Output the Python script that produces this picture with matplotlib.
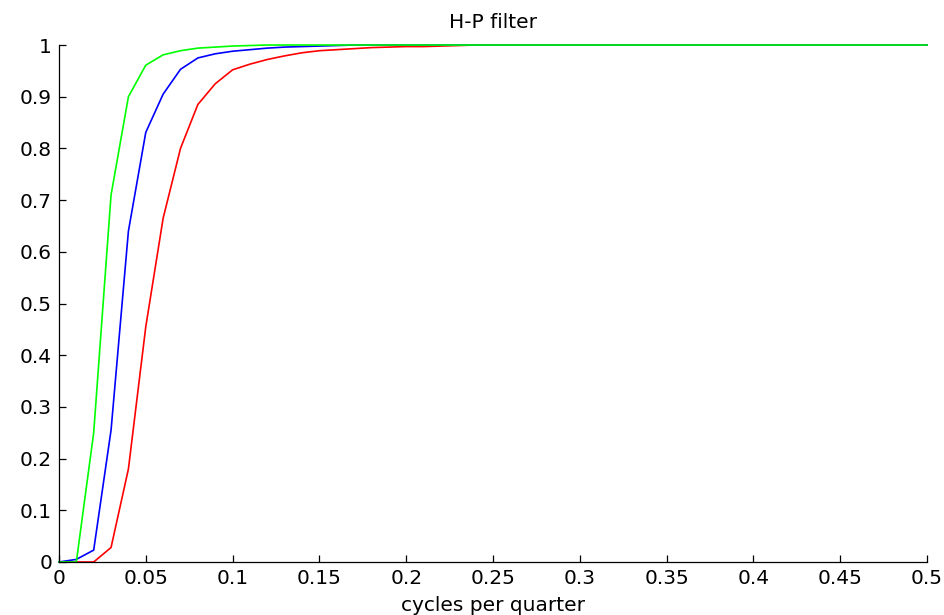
import numpy as np
import matplotlib.pyplot as plt
from matplotlib.ticker import FuncFormatter

# frequency grid (cycles per quarter), the tail is flat at 1
freq = [0.0, 0.01, 0.02, 0.03, 0.04, 0.05, 0.06, 0.07, 0.08, 0.09,
        0.10, 0.11, 0.12, 0.13, 0.14, 0.15, 0.16, 0.17, 0.18, 0.19,
        0.20, 0.21, 0.22, 0.23, 0.24, 0.5]

gain_red = [0.0, 0.0, 0.0, 0.028, 0.18, 0.455, 0.665, 0.80, 0.885, 0.925,
            0.952, 0.963, 0.972, 0.979, 0.985, 0.989, 0.991, 0.993, 0.995, 0.996,
            0.997, 0.997, 0.998, 0.999, 1.0, 1.0]
gain_blue = [0.0, 0.005, 0.023, 0.255, 0.64, 0.831, 0.905, 0.953, 0.975, 0.983,
             0.988, 0.991, 0.994, 0.996, 0.997, 0.998, 0.999, 1.0, 1.0, 1.0,
             1.0, 1.0, 1.0, 1.0, 1.0, 1.0]
gain_green = [0.0, 0.0, 0.25, 0.71, 0.90, 0.961, 0.981, 0.989, 0.994, 0.996,
              0.998, 0.999, 1.0, 1.0, 1.0, 1.0, 1.0, 1.0, 1.0, 1.0,
              1.0, 1.0, 1.0, 1.0, 1.0, 1.0]

xticks = np.arange(0, 0.51, 0.05)
yticks = np.arange(0, 1.01, 0.1)

plt.rcParams['font.family'] = ['DejaVu Sans']

fig = plt.figure(figsize=(9.45, 6.15), dpi=100)
ax = fig.add_axes([0.0624, 0.0862, 0.9186, 0.8406])

ax.plot(freq, gain_red, color='#ff0000', lw=1.2, clip_on=False)
ax.plot(freq, gain_blue, color='#0000ff', lw=1.2, clip_on=False)
ax.plot(freq, gain_green, color='#00ff00', lw=1.2, clip_on=False)

ax.set_xlim(0, 0.5)
ax.set_ylim(0, 1)
ax.set_xticks(xticks)
ax.set_yticks(yticks)

def matlab_fmt(v, pos):
    s = '%.2f' % v
    s = s.rstrip('0').rstrip('.')
    return s

ax.xaxis.set_major_formatter(FuncFormatter(matlab_fmt))
ax.yaxis.set_major_formatter(FuncFormatter(matlab_fmt))

ax.spines['top'].set_visible(False)
ax.spines['right'].set_visible(False)
ax.spines['left'].set_linewidth(0.9)
ax.spines['bottom'].set_linewidth(0.9)
ax.tick_params(direction='in', length=5, width=0.9, labelsize=14.5, pad=5)

ax.set_title('H-P filter', fontsize=14.5, pad=12)
ax.set_xlabel('cycles per quarter', fontsize=14.5, labelpad=6)

fig.savefig('out.png', dpi=100)
